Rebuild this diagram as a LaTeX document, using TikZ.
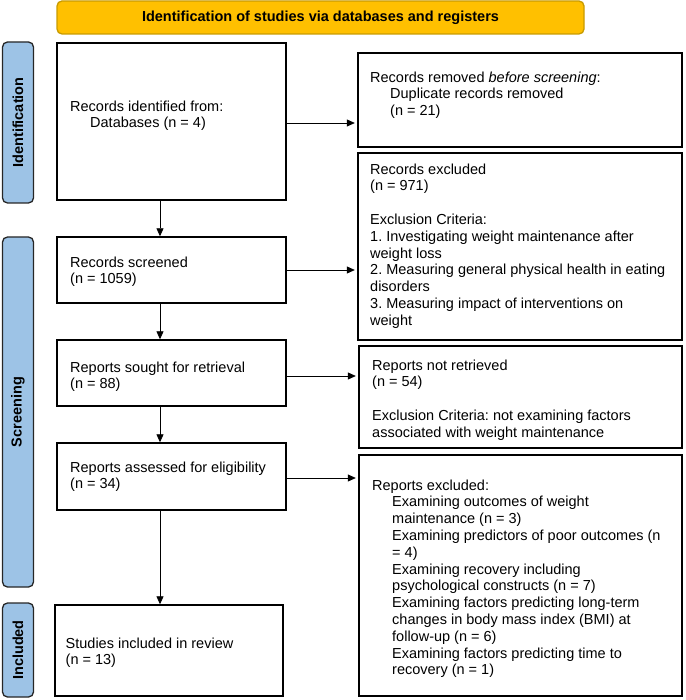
\documentclass[tikz,border=0pt]{standalone}
\usepackage{fontspec}
\setmainfont{Liberation Sans}
\usetikzlibrary{arrows.meta}
\definecolor{bannerfill}{HTML}{FFC000}
\definecolor{bannerdraw}{HTML}{C89B00}
\definecolor{barfill}{HTML}{9DC3E6}
\definecolor{bardraw}{HTML}{262626}
\tikzset{
  box/.style={draw=black, line width=1.4pt, inner sep=0pt, fill=white},
  txt/.style={inner sep=0pt, anchor=north west, align=left, font=\fontsize{14.5}{16.8}\selectfont},
  sidebar/.style={draw=bardraw, line width=1.3pt, fill=barfill, rounded corners=5pt, inner sep=0pt},
  sidelabel/.style={rotate=90, font=\fontsize{14.5}{16.8}\selectfont\bfseries, inner sep=0pt},
  banner/.style={draw=bannerdraw, line width=1.3pt, fill=bannerfill, rounded corners=5pt, inner sep=0pt, font=\fontsize{14.5}{16.8}\selectfont\bfseries},
  arr/.style={line width=0.8pt, -{Triangle[length=8pt,width=7pt]}},
}
\newcommand{\ind}{\hspace*{20pt}}
\frenchspacing
\begin{document}
\begin{tikzpicture}[x=1pt,y=-1pt]
\useasboundingbox (0,0) rectangle (685,700);
% banner
\node[banner, minimum width=527pt, minimum height=33pt] (ban) at (320.5,17.5) {Identification of studies via databases and registers};
% side bars
\node[sidebar, minimum width=31pt, minimum height=161pt] (sid) at (18,122.5) {};
\node[sidelabel] (lid) at (sid.center) {Identification};
\node[sidebar, minimum width=31pt, minimum height=350pt] (ssc) at (18,412) {};
\node[sidelabel] (lsc) at (ssc.center) {Screening};
\node[sidebar, minimum width=31pt, minimum height=94pt] (sin) at (18,650) {};
\node[sidelabel] (lin) at (sin.center) {Included};
% boxes
\node[box, minimum width=229pt, minimum height=157pt] (b1) at (171.5,121.5) {};
\node[box, minimum width=324pt, minimum height=94pt] (rem) at (520,100) {};
\node[box, minimum width=324pt, minimum height=187pt] (exc) at (520,246.5) {};
\node[box, minimum width=229pt, minimum height=66pt] (scr) at (171.5,270) {};
\node[box, minimum width=229pt, minimum height=66pt] (sou) at (171.5,373) {};
\node[box, minimum width=323pt, minimum height=102pt] (nr) at (520.5,397) {};
\node[box, minimum width=229pt, minimum height=67pt] (ass) at (171.5,476.5) {};
\node[box, minimum width=323pt, minimum height=241pt] (rex) at (520.5,575.5) {};
\node[box, minimum width=228pt, minimum height=91pt] (stu) at (169,650.5) {};
% texts
\node[txt] (t1) at (70,99.2) {\strut Records identified from:\\\ind Databases (n = 4)};
\node[txt] (trem) at (370,70.2) {\strut Records removed \textit{before screening}:\\\ind Duplicate records removed\\\ind (n = 21)};
\node[txt] (texc) at (370,162.2) {\strut Records excluded\\(n = 971)\\[16.8pt]Exclusion Criteria:\\1. Investigating weight maintenance after\\weight loss\\2. Measuring general physical health in eating\\disorders\\3. Measuring impact of interventions on\\weight};
\node[txt] (tscr) at (70,255.2) {\strut Records screened\\(n = 1059)};
\node[txt] (tsou) at (70,360.2) {\strut Reports sought for retrieval\\(n = 88)};
\node[txt] (tnr) at (372,358.2) {\strut Reports not retrieved\\(n = 54)\\[16.8pt]Exclusion Criteria: not examining factors\\associated with weight maintenance};
\node[txt] (tass) at (70,460.2) {\strut Reports assessed for eligibility\\(n = 34)};
\node[txt] (trex) at (372,478.2) {\strut Reports excluded:\\\ind Examining outcomes of weight\\\ind maintenance (n = 3)\\\ind Examining predictors of poor outcomes (n\\\ind = 4)\\\ind Examining recovery including\\\ind psychological constructs (n = 7)\\\ind Examining factors predicting long-term\\\ind changes in body mass index (BMI) at\\\ind follow-up (n = 6)\\\ind Examining factors predicting time to\\\ind recovery (n = 1)};
\node[txt] (tstu) at (65.5,636.2) {\strut Studies included in review\\(n = 13)};
% connectors
\coordinate (ax) at (160,0);
\draw[arr] (b1.south -| ax) -- (scr.north -| ax);
\draw[arr] (scr.south -| ax) -- (sou.north -| ax);
\draw[arr] (sou.south -| ax) -- (ass.north -| ax);
\draw[arr] (ass.south -| ax) -- (stu.north -| ax);
\draw[arr, shorten >=2.5pt] (b1.east |- 0,123) -- (rem.west |- 0,123);
\draw[arr, shorten >=2.5pt] (scr.east) -- (scr.east -| exc.west);
\draw[arr, shorten >=2.5pt] (sou.east |- 0,376) -- (nr.west |- 0,376);
\draw[arr, shorten >=2.5pt] (ass.east |- 0,478) -- (rex.west |- 0,478);
\end{tikzpicture}
\end{document}
